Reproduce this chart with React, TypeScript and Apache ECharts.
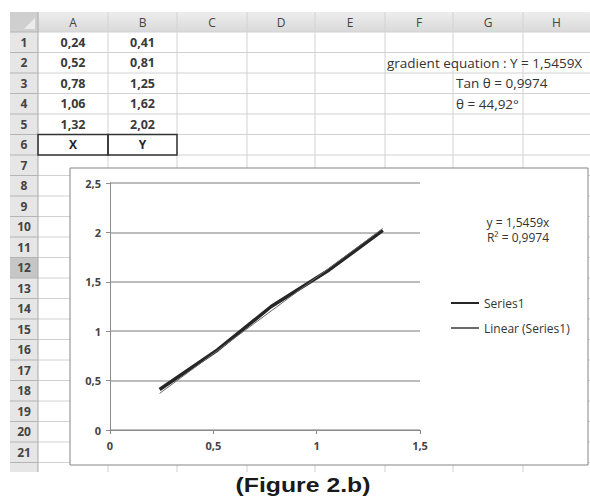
import React, { useEffect, useRef } from "react";
import * as echarts from "echarts";

const xValues = [0.24, 0.52, 0.78, 1.06, 1.32];
const yValues = [0.41, 0.81, 1.25, 1.62, 2.02];
const trendX = [0.24, 1.32];
const trendY = [0.37, 2.04];
const columnLetters = ["A", "B", "C", "D", "E", "F", "G", "H"];
const headerCells = ["X", "Y"];
const infoLines = ["gradient equation : Y = 1,5459X", "Tan θ = 0,9974", "θ = 44,92°"];
const equationLines = ["y = 1,5459x", "R² = 0,9974"];
const seriesNames = ["Series1", "Linear (Series1)"];
const caption = "(Figure 2.b)";

const FONT = "'Open Sans', 'Noto Sans', sans-serif";
const comma = (v: number, d?: number) =>
  (d === undefined ? String(v) : v.toFixed(d)).replace(".", ",");

export default function App() {
  const ref = useRef<HTMLDivElement>(null);
  useEffect(() => {
    if (!ref.current) return;
    const chart = echarts.init(ref.current, undefined, { renderer: "svg" });

    const colX = [10, 38, 108, 177, 247, 315, 385, 453, 523, 590];
    const headTop = 12;
    const rowTop = 32;
    const rowH = 20.5;
    const gridBottom = 472;
    const nRows = 21;
    const rowY = (n: number) => rowTop + n * rowH;
    const g: any[] = [];

    g.push({
      type: "rect", z: -5,
      shape: { x: colX[0], y: headTop, width: colX[9] - colX[0], height: rowTop - headTop },
      style: {
        fill: new echarts.graphic.LinearGradient(0, 0, 0, 1, [
          { offset: 0, color: "#ededed" },
          { offset: 1, color: "#d9d9d9" },
        ]),
      },
    });
    g.push({
      type: "rect", z: -5,
      shape: { x: colX[0], y: rowTop, width: colX[1] - colX[0], height: gridBottom - rowTop },
      style: { fill: "#e6e6e6" },
    });
    g.push({
      type: "rect", z: -5,
      shape: { x: colX[0], y: rowY(11), width: colX[1] - colX[0], height: rowH },
      style: { fill: "#c6c6c6" },
    });
    g.push({
      type: "rect", z: -5,
      shape: { x: colX[0], y: headTop, width: colX[1] - colX[0], height: rowTop - headTop },
      style: { fill: "#cfcfcf" },
    });
    g.push({
      type: "polygon", z: -4,
      shape: { points: [[35, 18], [35, 29], [24, 29]] },
      style: { fill: "#ececec" },
    });
    for (let n = 0; n <= nRows; n++) {
      const y = rowY(n);
      g.push({
        type: "line", z: -3,
        shape: { x1: colX[1], y1: y, x2: colX[9], y2: y },
        style: { stroke: "#d2d2d2", lineWidth: 1 },
      });
      g.push({
        type: "line", z: -3,
        shape: { x1: colX[0], y1: y, x2: colX[1], y2: y },
        style: { stroke: "#b4b4b4", lineWidth: 1 },
      });
    }
    colX.forEach((x, i) => {
      if (i === 0 || i === 9) return;
      g.push({
        type: "line", z: -3,
        shape: { x1: x, y1: headTop, x2: x, y2: gridBottom },
        style: { stroke: i === 1 ? "#a8a8a8" : "#d2d2d2", lineWidth: 1 },
      });
    });
    columnLetters.forEach((l, i) => {
      g.push({
        type: "text", z: -2,
        x: (colX[i + 1] + colX[i + 2]) / 2, y: (headTop + rowTop) / 2,
        style: { text: l, fontSize: 12, fontFamily: FONT, fill: "#444", align: "center", verticalAlign: "middle" },
      });
    });
    for (let n = 1; n <= nRows; n++) {
      g.push({
        type: "text", z: -2,
        x: (colX[0] + colX[1]) / 2, y: rowY(n - 0.5),
        style: { text: String(n), fontSize: 12, fontWeight: "bold", fontFamily: FONT, fill: "#444", align: "center", verticalAlign: "middle" },
      });
    }
    const cellStyle = { fontSize: 12.5, fontWeight: "bold", fontFamily: FONT, fill: "#3a3a3a", align: "center", verticalAlign: "middle" };
    xValues.forEach((v, i) => {
      g.push({
        type: "text", z: -2,
        x: (colX[1] + colX[2]) / 2, y: rowY(i + 0.5),
        style: { ...cellStyle, text: comma(v, 2) },
      });
    });
    yValues.forEach((v, i) => {
      g.push({
        type: "text", z: -2,
        x: (colX[2] + colX[3]) / 2, y: rowY(i + 0.5),
        style: { ...cellStyle, text: comma(v, 2) },
      });
    });
    headerCells.forEach((t, i) => {
      g.push({
        type: "rect", z: -2,
        shape: { x: colX[i + 1], y: rowY(5), width: colX[i + 2] - colX[i + 1], height: rowH },
        style: { fill: "none", stroke: "#333", lineWidth: 1.5 },
      });
      g.push({
        type: "text", z: -2,
        x: (colX[i + 1] + colX[i + 2]) / 2, y: rowY(5.5),
        style: { text: t, fontSize: 12, fontWeight: "bold", fontFamily: FONT, fill: "#222", align: "center", verticalAlign: "middle" },
      });
    });
    const infoX = [387, 456, 456];
    infoLines.forEach((t, i) => {
      g.push({
        type: "text", z: -2,
        x: infoX[i], y: rowY(i + 1.5),
        style: { text: t, fontSize: 13.5, fontFamily: FONT, fill: "#333", align: "left", verticalAlign: "middle" },
      });
    });
    g.push({
      type: "rect", z: -1,
      shape: { x: 70, y: 168, width: 518, height: 297 },
      style: { fill: "#ffffff", stroke: "#858585", lineWidth: 1 },
    });
    equationLines.forEach((t, i) => {
      g.push({
        type: "text", z: 5,
        x: 518, y: 222 + i * 15.5,
        style: { text: t, fontSize: 12, lineHeight: 14, fontFamily: FONT, fill: "#333", align: "center", verticalAlign: "middle" },
      });
    });
    g.push({
      type: "text", z: 5,
      x: 303, y: 485, scaleX: 1.18,
      style: { text: caption, fontSize: 21, fontWeight: "bold", fontFamily: "'Liberation Sans', Arial, sans-serif", fill: "#1a1a1a", align: "center", verticalAlign: "middle" },
    });

    chart.setOption({
      animation: false,
      backgroundColor: "#ffffff",
      grid: { left: 110, top: 183, width: 310, height: 247, containLabel: false },
      xAxis: {
        type: "value", min: 0, max: 1.5, interval: 0.5,
        axisLine: { show: true, lineStyle: { color: "#8c8c8c", width: 1 } },
        axisTick: { show: true, length: 4, lineStyle: { color: "#8c8c8c" } },
        splitLine: { show: false },
        axisLabel: { formatter: (v: number) => comma(v), fontSize: 11, fontWeight: "bold", color: "#444", fontFamily: FONT, margin: 10 },
      },
      yAxis: {
        type: "value", min: 0, max: 2.5, interval: 0.5,
        axisLine: { show: true, lineStyle: { color: "#8c8c8c", width: 1 } },
        axisTick: { show: true, length: 4, lineStyle: { color: "#8c8c8c" } },
        splitLine: { show: true, lineStyle: { color: "#a6a6a6", width: 1.5 } },
        axisLabel: { formatter: (v: number) => comma(v), fontSize: 11, fontWeight: "bold", color: "#444", fontFamily: FONT, margin: 9 },
      },
      legend: {
        orient: "vertical", left: 450, top: 297, padding: 0,
        itemWidth: 28, itemHeight: 12, itemGap: 13,
        itemStyle: { opacity: 0 },
        textStyle: { fontSize: 12, color: "#333", fontFamily: FONT },
        data: seriesNames,
      },
      graphic: { elements: g },
      series: [
        {
          name: seriesNames[0], type: "line", showSymbol: false, symbol: "none",
          data: xValues.map((x, i) => [x, yValues[i]]),
          lineStyle: { color: "#262626", width: 3.5 },
          itemStyle: { color: "#262626" },
          z: 3,
        },
        {
          name: seriesNames[1], type: "line", showSymbol: false, symbol: "none",
          data: trendX.map((x, i) => [x, trendY[i]]),
          lineStyle: { color: "#6a6a6a", width: 1 },
          itemStyle: { color: "#6a6a6a" },
          z: 4,
        },
      ],
    });
    return () => chart.dispose();
  }, []);
  return <div ref={ref} style={{ position: "absolute", left: 0, top: 0, width: 590, height: 496 }} />;
}
